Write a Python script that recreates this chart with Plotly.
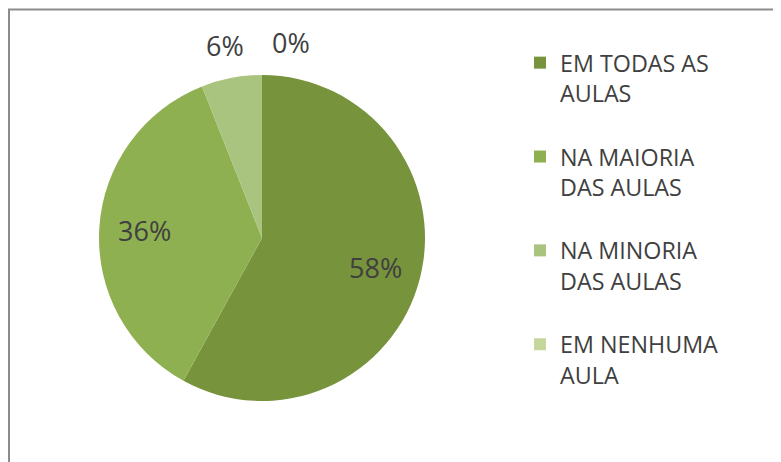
import math
import plotly.graph_objects as go

W, H = 781, 462

categorias = ["EM TODAS AS<br>AULAS<br> ", "NA MAIORIA<br>DAS AULAS<br> ",
              "NA MINORIA<br>DAS AULAS<br> ", "EM NENHUMA<br>AULA"]
valores = [58, 36, 6, 0]
cores = ["#77933c", "#8fb050", "#a9c47e", "#c4d79b"]

FONTE = "Open Sans"
COR_TEXTO = "#404040"

# centro e raio da pizza em pixels da figura (a página tem 8px de margem)
cx, cy, r = 254, 230, 163

fig = go.Figure()
fig.add_trace(
    go.Pie(
        labels=categorias,
        values=valores,
        sort=False,
        direction="clockwise",
        rotation=0,
        marker=dict(colors=cores, line=dict(width=0)),
        textinfo="none",
        domain=dict(x=[(cx - r) / W, (cx + r) / W], y=[(H - cy - r) / H, (H - cy + r) / H]),
        showlegend=True,
        hoverinfo="label+percent",
    )
)

# rótulos de porcentagem no estilo do Excel
total = sum(valores)
acum = 0
anterior_x = None
for v in valores:
    frac = v / total
    meio = 2 * math.pi * (acum + frac / 2)
    acum += frac
    if frac > 0.15:
        dist = 0.72 * r
        fora = False
    else:
        dist = r + 33
        fora = True
    px = cx + dist * math.sin(meio)
    py = cy - dist * math.cos(meio)
    if fora:
        if anterior_x is not None and abs(px - anterior_x) < 60:
            px = anterior_x + 66
        anterior_x = px
    fig.add_annotation(
        x=px / W, y=1 - py / H, xref="paper", yref="paper",
        text=f"{round(frac * 100)}%", showarrow=False,
        xanchor="center", yanchor="middle",
        font=dict(family=FONTE, size=27, color=COR_TEXTO),
    )

fig.update_layout(
    width=W,
    height=H,
    margin=dict(l=0, r=0, t=0, b=0),
    paper_bgcolor="white",
    plot_bgcolor="white",
    font=dict(family=FONTE, color=COR_TEXTO),
    legend=dict(
        x=512 / W, y=1 - 33 / H, xanchor="left", yanchor="top",
        font=dict(family=FONTE, size=23.3, color=COR_TEXTO),
        valign="top", bgcolor="rgba(0,0,0,0)",
    ),
    shapes=[
        dict(type="rect", xref="paper", yref="paper",
             x0=1 / W, x1=1.02, y0=-0.02, y1=1 - 1.5 / H,
             line=dict(color="#8c8c8c", width=2), fillcolor="rgba(0,0,0,0)", layer="below"),
    ],
)

fig.write_html("out.html")
